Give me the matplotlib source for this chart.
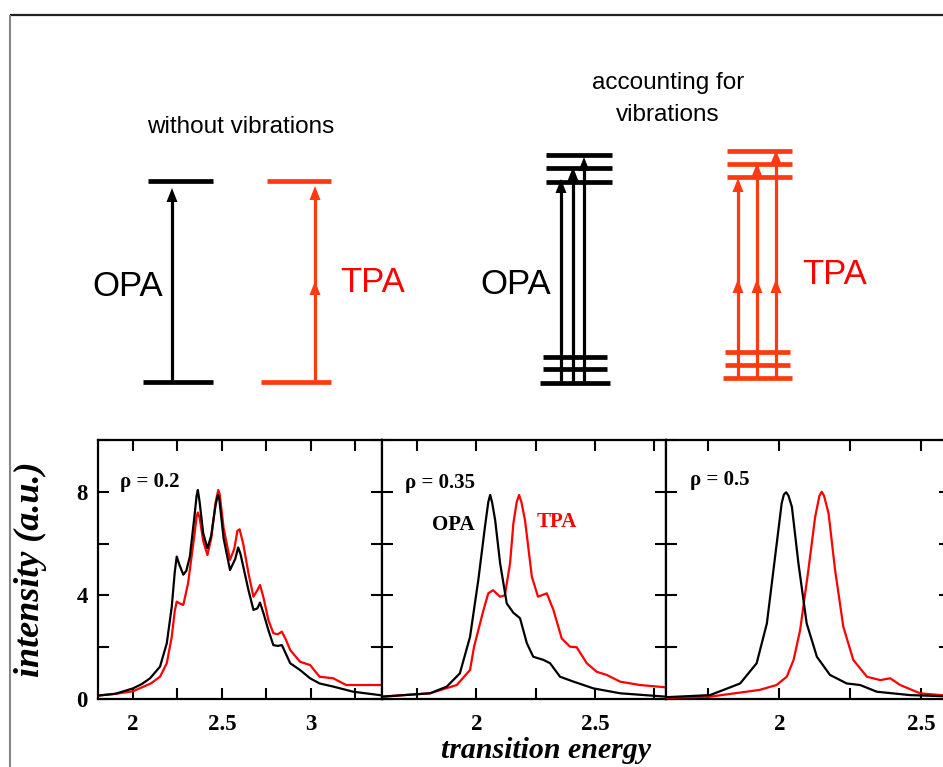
import matplotlib
matplotlib.use("Agg")
import matplotlib.pyplot as plt
from matplotlib.ticker import MultipleLocator

# ---------------- data ----------------
rho_labels = ["ρ = 0.2", "ρ = 0.35", "ρ = 0.5"]
xlims = [(1.8, 3.4), (1.6, 2.8), (1.6, 2.6)]
xmajor = [[2, 2.5, 3], [2, 2.5], [2, 2.5]]
xmajor_labels = [["2", "2.5", "3"], ["2", "2.5"], ["2", "2.5"]]
ymajor = [0, 4, 8]
ymajor_labels = ["0", "4", "8"]

# panel 1 (rho = 0.2)
p1_opa_x = [1.8, 1.9, 2.0, 2.05, 2.096, 2.152, 2.19, 2.218, 2.235, 2.246, 2.26, 2.283, 2.3, 2.32,
            2.345, 2.358, 2.365, 2.375, 2.395, 2.419, 2.44, 2.465, 2.478, 2.486, 2.51,
            2.546, 2.575, 2.592, 2.605, 2.65, 2.678, 2.7, 2.715, 2.735, 2.762, 2.79, 2.815,
            2.838, 2.885, 2.94, 2.997, 3.05, 3.127, 3.24, 3.39]
p1_opa_y = [0.13, 0.2, 0.41, 0.58, 0.8, 1.25, 2.15, 3.56, 4.9, 5.5, 5.2, 4.8, 4.95, 5.5,
            7.0, 7.85, 8.07, 7.6, 6.4, 5.82, 6.3, 7.5, 7.88, 7.7, 6.2,
            4.98, 5.4, 5.85, 5.6, 4.2, 3.44, 3.5, 3.72, 3.3, 2.66, 2.08, 2.05,
            2.08, 1.38, 1.12, 0.8, 0.6, 0.48, 0.28, 0.15]
p1_tpa_x = [1.8, 1.9, 2.0, 2.1, 2.152, 2.19, 2.218, 2.235, 2.246, 2.26, 2.283, 2.31, 2.345,
            2.358, 2.365, 2.375, 2.395, 2.419, 2.44, 2.465, 2.48, 2.488, 2.51, 2.546, 2.57,
            2.588, 2.6, 2.62, 2.65, 2.678, 2.7, 2.715, 2.735, 2.762, 2.79, 2.815, 2.838,
            2.86, 2.885, 2.94, 2.997, 3.05, 3.127, 3.2, 3.39]
p1_tpa_y = [0.13, 0.2, 0.3, 0.6, 0.86, 1.38, 2.4, 3.4, 3.76, 3.7, 3.63, 4.47, 6.3,
            7.05, 7.2, 7.0, 6.1, 5.56, 6.2, 7.6, 8.07, 7.9, 6.6, 5.37, 5.8,
            6.5, 6.55, 6.0, 4.85, 3.95, 4.2, 4.4, 3.9, 3.05, 2.54, 2.5, 2.6,
            2.3, 1.89, 1.44, 1.31, 0.86, 0.8, 0.54, 0.54]

# panel 2 (rho = 0.35)
p2_opa_x = [1.6, 1.804, 1.875, 1.93, 1.973, 2.008, 2.036, 2.05, 2.058, 2.066, 2.079, 2.1, 2.128,
            2.156, 2.184, 2.213, 2.24, 2.283, 2.311, 2.353, 2.41, 2.494, 2.607, 2.8]
p2_opa_y = [0.09, 0.22, 0.48, 0.99, 2.4, 4.6, 6.65, 7.6, 7.88, 7.6, 6.91, 5.24, 3.69,
            3.33, 3.12, 2.15, 1.63, 1.51, 1.38, 0.86, 0.67, 0.41, 0.22, 0.09]
p2_tpa_x = [1.6, 1.804, 1.917, 1.973, 1.99, 2.03, 2.05, 2.07, 2.10, 2.12, 2.142, 2.156, 2.17,
            2.18, 2.19, 2.205, 2.234, 2.26, 2.297, 2.325, 2.36, 2.395, 2.423, 2.466, 2.508,
            2.55, 2.607, 2.69, 2.8]
p2_tpa_y = [0.09, 0.22, 0.54, 1.12, 2.02, 3.44, 4.08, 4.2, 3.95, 4.0, 5.24, 6.78, 7.6,
            7.88, 7.6, 6.91, 4.72, 3.95, 4.08, 3.44, 2.34, 2.02, 2.0, 1.38, 1.05,
            0.93, 0.67, 0.54, 0.45]

# panel 3 (rho = 0.5)
p3_opa_x = [1.6, 1.756, 1.862, 1.92, 1.956, 1.985, 2.008, 2.016, 2.024, 2.032, 2.044, 2.067,
            2.096, 2.132, 2.178, 2.237, 2.284, 2.343, 2.46, 2.6]
p3_opa_y = [0.07, 0.15, 0.6, 1.38, 2.92, 5.5, 7.55, 7.9, 7.98, 7.85, 7.42, 5.24,
            2.92, 1.63, 0.93, 0.6, 0.54, 0.28, 0.15, 0.1]
p3_tpa_x = [1.6, 1.756, 1.93, 1.99, 2.026, 2.05, 2.073, 2.102, 2.126, 2.141, 2.149, 2.157,
            2.173, 2.196, 2.225, 2.26, 2.308, 2.355, 2.39, 2.425, 2.495, 2.6]
p3_tpa_y = [0.05, 0.09, 0.35, 0.54, 0.86, 1.51, 2.66, 4.98, 7.04, 7.85, 8.0, 7.85,
            7.17, 4.98, 2.79, 1.51, 0.86, 0.73, 0.8, 0.54, 0.22, 0.12]

opa_series = [(p1_opa_x, p1_opa_y), (p2_opa_x, p2_opa_y), (p3_opa_x, p3_opa_y)]
tpa_series = [(p1_tpa_x, p1_tpa_y), (p2_tpa_x, p2_tpa_y), (p3_tpa_x, p3_tpa_y)]

# ---------------- figure ----------------
W, H = 943, 767
fig = plt.figure(figsize=(W / 100, H / 100), dpi=100)
fig.patch.set_facecolor("white")

serif = ["Liberation Serif", "DejaVu Serif"]
sans = ["Liberation Sans", "DejaVu Sans"]

RED_CURVE = "#ff0000"
RED_DIAG = "#ff3a0f"

ax_left = [97.5, 381.7, 665.7]
ax_w = 284.2
ax_top, ax_bot = 440, 699
rho_pos = [(0.079, 0.838), (0.082, 0.834), (0.0855, 0.845)]

axes = []
for i in range(3):
    ax = fig.add_axes([ax_left[i] / W, 1 - ax_bot / H, ax_w / W, (ax_bot - ax_top) / H])
    axes.append(ax)
    ox, oy = opa_series[i]
    tx, ty = tpa_series[i]
    ax.plot(tx, ty, color=RED_CURVE, lw=1.6, zorder=3, solid_joinstyle="round")
    ax.plot(ox, oy, color="black", lw=1.6, zorder=4, solid_joinstyle="round")
    ax.set_xlim(*xlims[i])
    ax.set_ylim(0, 10)
    ax.set_xticks(xmajor[i])
    ax.set_xticklabels(xmajor_labels[i])
    ax.xaxis.set_minor_locator(MultipleLocator(0.25))
    ax.set_yticks(ymajor)
    ax.yaxis.set_minor_locator(MultipleLocator(2))
    if i == 0:
        ax.set_yticklabels(ymajor_labels)
    else:
        ax.set_yticklabels([])
    ax.tick_params(which="both", direction="in", top=True, right=True, length=8, width=1.5,
                   labelsize=16.5)
    ax.tick_params(axis="x", which="major", pad=11)
    ax.tick_params(axis="y", which="major", pad=7)
    for lab in ax.get_xticklabels() + ax.get_yticklabels():
        lab.set_fontfamily(serif)
        lab.set_fontweight("bold")
    for s in ax.spines.values():
        s.set_linewidth(1.6)
    ax.text(rho_pos[i][0], rho_pos[i][1], rho_labels[i], transform=ax.transAxes,
            fontsize=15, fontweight="bold", family=serif, va="center", ha="left")

axes[1].text(0.176, 0.672, "OPA", transform=axes[1].transAxes, fontsize=15,
             fontweight="bold", family=serif, va="center", ha="left", color="black")
axes[1].text(0.545, 0.685, "TPA", transform=axes[1].transAxes, fontsize=15,
             fontweight="bold", family=serif, va="center", ha="left", color=RED_CURVE)

fig.text(30 / W, 1 - 569 / H, "intensity (a.u.)", rotation=90, fontsize=26,
         fontstyle="italic", fontweight="bold", family=serif, ha="center", va="center")
fig.text(546 / W, 1 - 751 / H, "transition energy", fontsize=21.5,
         fontstyle="italic", fontweight="bold", family=serif, ha="center", va="center")

# ---------------- schematic overlay (pixel layout) ----------------
ov = fig.add_axes([0, 0, 1, 1], zorder=-1)
ov.set_xlim(0, W)
ov.set_ylim(H, 0)
ov.axis("off")

# frame
ov.plot([10, W], [15, 15], color="#222222", lw=1.6, solid_capstyle="butt")
ov.plot([10, 10], [15, H], color="#888888", lw=1.5, solid_capstyle="butt")

LEVEL_LW = 3.4
ARROW_LW = 2.3


def level(x0, x1, y, c):
    ov.plot([x0, x1], [y, y], color=c, lw=LEVEL_LW, solid_capstyle="butt")


def arrow(x, y0, y1, c, heads):
    ov.plot([x, x], [y0, y1], color=c, lw=ARROW_LW, solid_capstyle="butt")
    for tip in heads:
        ov.fill([x - 5.5, x + 5.5, x], [tip + 14, tip + 14, tip], color=c, lw=0)


# left: without vibrations
level(148, 213, 181, "black")
level(143, 213, 382, "black")
arrow(172, 380, 196, "black", [188])
level(267, 331, 181, RED_DIAG)
level(261, 331, 382, RED_DIAG)
arrow(315, 380, 192, RED_DIAG, [281, 186])

# right: accounting for vibrations (OPA)
for y in [155, 168, 182]:
    level(546, 612, y, "black")
for (x0, x1, y) in [(543, 607, 357), (543, 607, 369), (540, 610, 383)]:
    level(x0, x1, y, "black")
for x, tip in [(561, 179), (573, 167), (584, 157)]:
    arrow(x, 381, tip + 8, "black", [tip])

# right: accounting for vibrations (TPA)
for y in [151, 164, 177]:
    level(727, 792, y, RED_DIAG)
for (x0, x1, y) in [(725, 790, 352), (725, 790, 365), (723, 792, 378)]:
    level(x0, x1, y, RED_DIAG)
for x, tip in [(738, 178), (757, 163), (776, 150)]:
    arrow(x, 377, tip + 8, RED_DIAG, [279, tip])

ov.text(241, 127, "without vibrations", fontsize=17.5, family=sans, ha="center", va="center")
ov.text(668, 83, "accounting for", fontsize=17.5, family=sans, ha="center", va="center")
ov.text(668, 115, "vibrations", fontsize=17.5, family=sans, ha="center", va="center")

ov.text(128, 287, "OPA", fontsize=25, family=sans, ha="center", va="center", color="black")
ov.text(373, 282, "TPA", fontsize=25, family=sans, ha="center", va="center", color=RED_CURVE)
ov.text(516, 284, "OPA", fontsize=25, family=sans, ha="center", va="center", color="black")
ov.text(835, 275, "TPA", fontsize=25, family=sans, ha="center", va="center", color=RED_CURVE)

fig.savefig("out.png", dpi=100, facecolor="white")
